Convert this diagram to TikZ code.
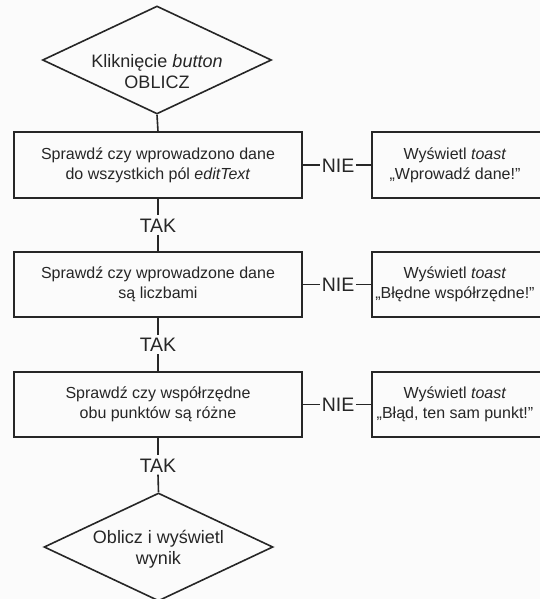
\documentclass[tikz,border=0pt]{standalone}
\usepackage{fontspec}
\setmainfont{Liberation Sans}
\usetikzlibrary{shapes.geometric}
\definecolor{ink}{HTML}{262626}
\definecolor{bg}{HTML}{FBFBFB}
\begin{document}
\begin{tikzpicture}[x=1pt,y=-1pt,
  every node/.style={text=ink},
  decision/.style={diamond, draw=ink, line width=1.6pt, minimum width=229pt, minimum height=108pt, inner sep=0pt},
  dtext/.style={align=center, font=\fontsize{18}{21.5}\selectfont, inner sep=0pt},
  stepbox/.style={rectangle, draw=ink, line width=1.6pt, minimum width=288pt, minimum height=65.5pt, align=center, font=\fontsize{16}{20}\selectfont, inner sep=0pt},
  msgbox/.style={rectangle, draw=ink, line width=1.6pt, minimum width=172pt, minimum height=65.5pt, inner sep=0pt},
  msgtext/.style={align=center, font=\fontsize{16}{20}\selectfont, inner sep=0pt},
  answer/.style={font=\fontsize{19.5}{20}\selectfont, inner xsep=1.5pt, inner ysep=2.5pt, text height=14pt, text depth=0pt},
  conn/.style={draw=ink, line width=1.6pt}]
\fill[bg] (0,0) rectangle (540,599);
\useasboundingbox (0,0) rectangle (540,599);

% start
\node[decision] (d1) at (157,60) {};
\node[dtext] (d1t) at (157,71.5) {Kliknięcie \textit{button}\\OBLICZ};

% checks
\node[stepbox] (b1) at (158,165) {Sprawdź czy wprowadzono dane\\do wszystkich pól \textit{editText}};
\node[stepbox] (b2) at (158,284.5) {Sprawdź czy wprowadzone dane\\są liczbami};
\node[stepbox] (b3) at (158,404.5) {Sprawdź czy współrzędne\\obu punktów są różne};

% messages
\node[msgbox] (r1) at (458,165) {};
\node[msgbox] (r2) at (458,284.5) {};
\node[msgbox] (r3) at (458,404.5) {};
\node[msgtext] (r1t) at (455,165) {Wyświetl \textit{toast}\\„Wprowadź dane!”};
\node[msgtext] (r2t) at (455,284.5) {Wyświetl \textit{toast}\\„Błędne współrzędne!”};
\node[msgtext] (r3t) at (455,404.5) {Wyświetl \textit{toast}\\„Błąd, ten sam punkt!”};

% end
\node[decision] (d2) at (158.5,547) {};
\node[dtext] (d2t) at (158.5,549) {Oblicz i wyświetl\\wynik};

% answers
\node[answer] (t1) at (158,225) {TAK};
\node[answer] (t2) at (158,344.5) {TAK};
\node[answer] (t3) at (158,465) {TAK};
\node[answer] (n1) at (338,165) {NIE};
\node[answer] (n2) at (338,284.5) {NIE};
\node[answer] (n3) at (338,404.5) {NIE};

% connectors
\draw[conn] (d1.south) -- (b1.north);
\draw[conn] (b1.south) -- (t1.north);
\draw[conn] (t1.south) -- (b2.north);
\draw[conn] (b2.south) -- (t2.north);
\draw[conn] (t2.south) -- (b3.north);
\draw[conn] (b3.south) -- (t3.north);
\draw[conn] (t3.south) -- (d2.north);
\draw[conn] (b1.east) -- (n1.west);
\draw[conn] (n1.east) -- (r1.west);
\draw[conn] (b2.east) -- (n2.west);
\draw[conn] (n2.east) -- (r2.west);
\draw[conn] (b3.east) -- (n3.west);
\draw[conn] (n3.east) -- (r3.west);
\end{tikzpicture}
\end{document}
